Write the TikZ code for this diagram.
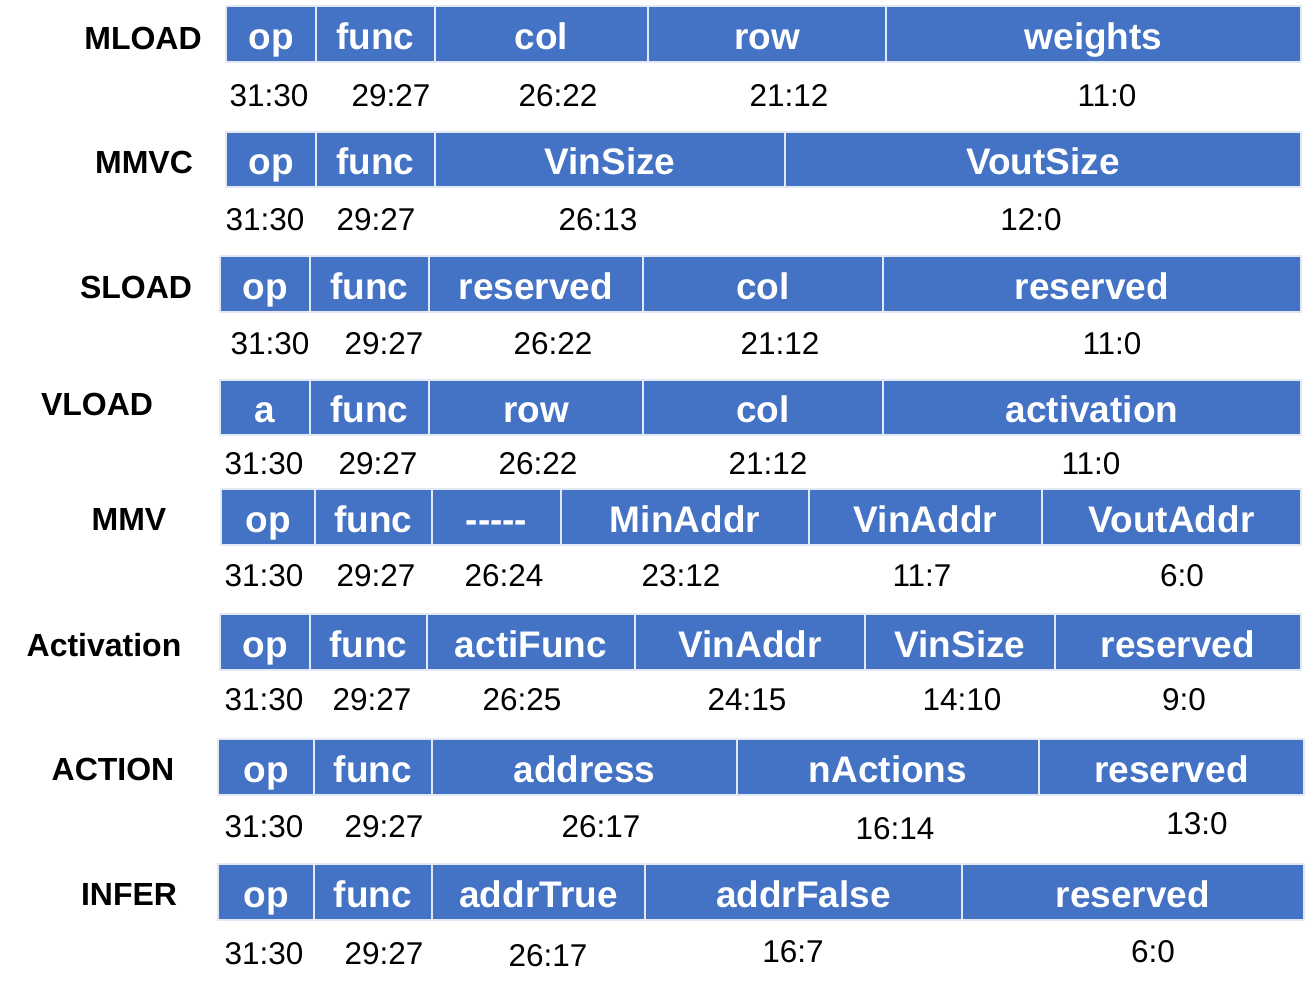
\documentclass[tikz,border=0pt]{standalone}
\usepackage{fontspec}
\setmainfont{Liberation Sans}
\definecolor{cellblue}{HTML}{4472C4}
\definecolor{cellline}{HTML}{E3E9F4}
\tikzset{
 field/.style={fill=cellblue, draw=cellline, line width=2.2pt, inner sep=0pt, outer sep=0pt,
   text=white, font=\fontsize{37}{40}\selectfont\bfseries, text height=30pt, text depth=0pt},
 rowname/.style={anchor=base, inner sep=0pt, font=\fontsize{32}{36}\selectfont\bfseries},
 bits/.style={anchor=base, inner sep=0pt, font=\fontsize{31.5}{36}\selectfont},
}
\newcommand{\fieldcell}[6]{%
 \node[field, minimum width={(#3-#2)*1pt}, minimum height={(#5-#4)*1pt}] (#1) at ({(#2+#3)/2},{(#4+#5)/2}) {#6};}
\begin{document}
\begin{tikzpicture}[x=1pt,y=-1pt]
\useasboundingbox (0,0) rectangle (1311,994);
% Row 1 MLOAD
\node[rowname] (n1) at (143,49) {MLOAD};
\fieldcell{a1}{226}{316}{6}{62}{op}
\fieldcell{b1}{316}{435}{6}{62}{func}
\fieldcell{c1}{435}{648}{6}{62}{col}
\fieldcell{d1}{648}{886}{6}{62}{row}
\fieldcell{e1}{886}{1301}{6}{62}{weights}
\node[bits] (ba1) at (269,106) {31:30};
\node[bits] (bb1) at (391,106) {29:27};
\node[bits] (bc1) at (558,106) {26:22};
\node[bits] (bd1) at (789,106) {21:12};
\node[bits] (be1) at (1107,106) {11:0};
% Row 2 MMVC
\node[rowname] (n2) at (144,173) {MMVC};
\fieldcell{a2}{226}{316}{132}{187}{op}
\fieldcell{b2}{316}{435}{132}{187}{func}
\fieldcell{c2}{435}{785}{132}{187}{VinSize}
\fieldcell{d2}{785}{1301}{132}{187}{VoutSize}
\node[bits] (ba2) at (265,230) {31:30};
\node[bits] (bb2) at (376,230) {29:27};
\node[bits] (bc2) at (598,230) {26:13};
\node[bits] (bd2) at (1031,230) {12:0};
% Row 3 SLOAD
\node[rowname] (n3) at (136,298) {SLOAD};
\fieldcell{a3}{220}{310}{256}{312}{op}
\fieldcell{b3}{310}{429}{256}{312}{func}
\fieldcell{c3}{429}{643}{256}{312}{reserved}
\fieldcell{d3}{643}{883}{256}{312}{col}
\fieldcell{e3}{883}{1301}{256}{312}{reserved}
\node[bits] (ba3) at (270,354) {31:30};
\node[bits] (bb3) at (384,354) {29:27};
\node[bits] (bc3) at (553,354) {26:22};
\node[bits] (bd3) at (780,354) {21:12};
\node[bits] (be3) at (1112,354) {11:0};
% Row 4 VLOAD
\node[rowname] (n4) at (97,415) {VLOAD};
\fieldcell{a4}{220}{310}{380}{435}{a}
\fieldcell{b4}{310}{429}{380}{435}{func}
\fieldcell{c4}{429}{643}{380}{435}{row}
\fieldcell{d4}{643}{883}{380}{435}{col}
\fieldcell{e4}{883}{1301}{380}{435}{activation}
\node[bits] (ba4) at (264,474) {31:30};
\node[bits] (bb4) at (378,474) {29:27};
\node[bits] (bc4) at (538,474) {26:22};
\node[bits] (bd4) at (768,474) {21:12};
\node[bits] (be4) at (1091,474) {11:0};
% Row 5 MMV
\node[rowname] (n5) at (129,530) {MMV};
\fieldcell{a5}{221}{315}{489}{545}{op}
\fieldcell{b5}{315}{432}{489}{545}{func}
\fieldcell{c5}{432}{561}{489}{545}{-{}-{}-{}-{}-}
\fieldcell{d5}{561}{809}{489}{545}{MinAddr}
\fieldcell{e5}{809}{1042}{489}{545}{VinAddr}
\fieldcell{f5}{1042}{1301}{489}{545}{VoutAddr}
\node[bits] (ba5) at (264,586) {31:30};
\node[bits] (bb5) at (376,586) {29:27};
\node[bits] (bc5) at (504,586) {26:24};
\node[bits] (bd5) at (681,586) {23:12};
\node[bits] (be5) at (922,586) {11:7};
\node[bits] (bf5) at (1182,586) {6:0};
% Row 6 Activation
\node[rowname] (n6) at (104,656) {Activation};
\fieldcell{a6}{220}{310}{614}{670}{op}
\fieldcell{b6}{310}{427}{614}{670}{func}
\fieldcell{c6}{427}{635}{614}{670}{actiFunc}
\fieldcell{d6}{635}{865}{614}{670}{VinAddr}
\fieldcell{e6}{865}{1055}{614}{670}{VinSize}
\fieldcell{f6}{1055}{1301}{614}{670}{reserved}
\node[bits] (ba6) at (264,710) {31:30};
\node[bits] (bb6) at (372,710) {29:27};
\node[bits] (bc6) at (522,710) {26:25};
\node[bits] (bd6) at (747,710) {24:15};
\node[bits] (be6) at (962,710) {14:10};
\node[bits] (bf6) at (1184,710) {9:0};
% Row 7 ACTION
\node[rowname] (n7) at (113,780) {ACTION};
\fieldcell{a7}{218}{314}{739}{795}{op}
\fieldcell{b7}{314}{432}{739}{795}{func}
\fieldcell{c7}{432}{737}{739}{795}{address}
\fieldcell{d7}{737}{1039}{739}{795}{nActions}
\fieldcell{e7}{1039}{1304}{739}{795}{reserved}
\node[bits] (ba7) at (264,837) {31:30};
\node[bits] (bb7) at (384,837) {29:27};
\node[bits] (bc7) at (601,837) {26:17};
\node[bits] (bd7) at (895,839) {16:14};
\node[bits] (be7) at (1197,834) {13:0};
% Row 8 INFER
\node[rowname] (n8) at (129,905) {INFER};
\fieldcell{a8}{218}{314}{864}{920}{op}
\fieldcell{b8}{314}{432}{864}{920}{func}
\fieldcell{c8}{432}{645}{864}{920}{addrTrue}
\fieldcell{d8}{645}{962}{864}{920}{addrFalse}
\fieldcell{e8}{962}{1304}{864}{920}{reserved}
\node[bits] (ba8) at (264,964) {31:30};
\node[bits] (bb8) at (384,964) {29:27};
\node[bits] (bc8) at (548,966) {26:17};
\node[bits] (bd8) at (793,962) {16:7};
\node[bits] (be8) at (1153,962) {6:0};
\end{tikzpicture}
\end{document}
